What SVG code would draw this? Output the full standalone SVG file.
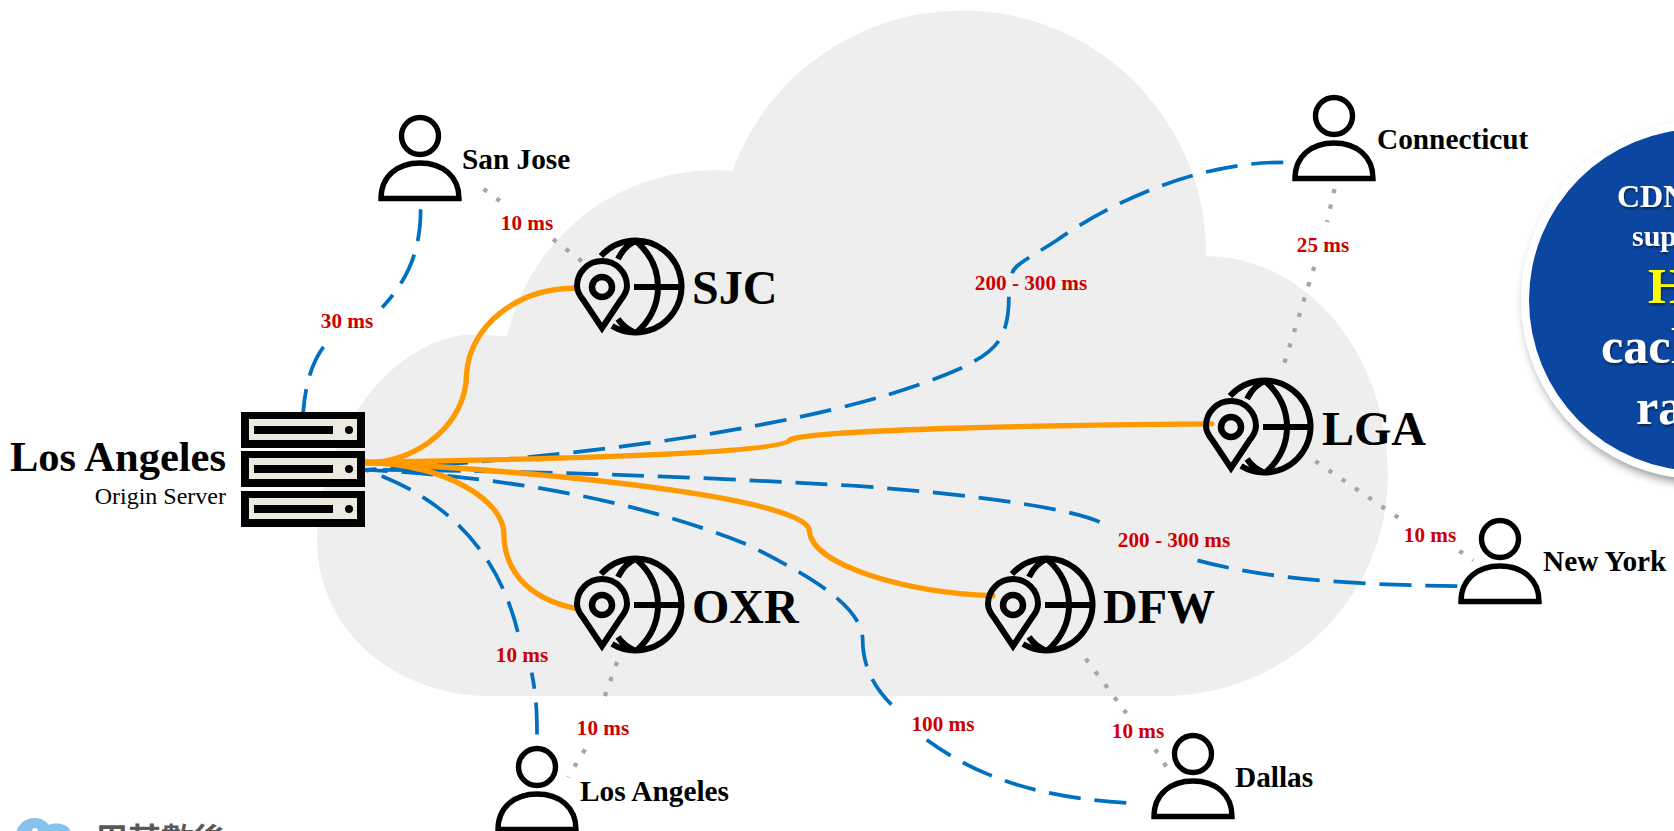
<svg xmlns="http://www.w3.org/2000/svg" width="1674" height="831" viewBox="0 0 1674 831">
<style>
text{font-family:"Liberation Serif","Noto Sans CJK TC",serif;font-weight:700}
.blue{fill:none;stroke:#0070c0;stroke-width:3.5;stroke-dasharray:30 13}
.or{fill:none;stroke:#ff9900;stroke-width:5;stroke-linecap:round}
.dot{fill:none;stroke:#a6a6a6;stroke-width:4;stroke-dasharray:4 11}
.ms{fill:#cc0000;font-size:21.2px;text-anchor:middle}
.pl{fill:#000;font-size:29.3px}
.city{fill:#000;font-size:48px}
.ico{fill:none;stroke:#000;stroke-width:6}
.per{fill:none;stroke:#000;stroke-width:5.4}
.w{fill:#fff}
</style>
<defs>
<g id="globe">
<path class="ico" d="M-1,-31A46,46 0 1 1 10,39M34,-46C50,-32 56,-15 56,0C56,15 50,32 34,46M34,-46C26,-43 20,-36 16,-28M34,46C26,43 20,38 16,32M32,0H78"/>
<path class="ico" d="M0,41L-18,14C-23,8 -25,4 -25,-1A25,25 0 0 1 25,-1C25,4 23,8 18,14Z"/>
<circle class="ico" cx="0" cy="0" r="10" style="stroke-width:6.500"/>
</g>
<g id="person">
<circle class="per" cx="0" cy="0" r="18.5"/>
<path class="per" d="M-39,62.500C-39,40 -22,27 0,27C22,27 39,40 39,62.500Z"/>
</g>
<g id="srv">
<rect x="0" y="0" width="124" height="36" fill="#000"/>
<rect x="8" y="7" width="108" height="21" fill="#ece9df"/>
<rect x="13" y="14" width="79" height="8" fill="#000"/>
<circle cx="108" cy="18" r="4" fill="#000"/>
</g>
<filter id="sh" x="-10%" y="-10%" width="120%" height="120%"><feDropShadow dx="3" dy="5" stdDeviation="4" flood-color="#000" flood-opacity=".4"/></filter>
<filter id="ts" x="-10%" y="-10%" width="120%" height="120%"><feDropShadow dx="1" dy="2" stdDeviation="1" flood-color="#000" flood-opacity=".5"/></filter>
</defs>

<g id="cloud" transform="scale(1.0676)">
<path fill="#eeeeee" d="M460,652C370,652 297,590 297,506C297,430 350,322 440,313L475,315A200,200 0 0 1 686,160A229,229 0 0 1 1130,240A170,205 0 0 1 1300,445A210,207 0 0 1 1090,652Z"/>
</g>

<g id="connectors" transform="scale(1.0676)">
<path class="dot" d="M453,177L472,191M518,224L548,247"/>
<path class="dot" d="M1250,177L1243,208M1231,250L1200,350"/>
<path class="dot" d="M1232,432L1310,485M1367,516L1380,525"/>
<path class="dot" d="M578,620L563,662M548,702L532,728"/>
<path class="dot" d="M1017,617L1055,668M1082,702L1095,722"/>
<path class="blue" d="M394,196C394,235 382,262 358,288M303,325C292,340 286,360 284,386"/>
<path class="blue" d="M1202,152C1120,152 1040,190 990,225C962,243 950,248 948,256M945,278C945,320 930,330 900,345C800,390 600,425 342,440"/>
<path class="blue" d="M1365,549C1290,548 1190,545 1115,523M1030,489C1000,475 900,462 800,455C640,446 500,441 342,440"/>
<path class="blue" d="M1055,752C990,748 925,735 868,693M835,660C815,640 808,620 808,598C806,570 770,545 700,510C600,470 480,447 342,440"/>
<path class="blue" d="M503,688C503,665 502,650 498,630M485,592C470,530 430,470 342,440"/>
<path class="or" d="M538,270C485,270 440,305 437,350C437,395 395,432 342,434"/>
<path class="or" d="M1135,397C1000,398 760,402 740,412C735,420 650,428 342,433"/>
<path class="or" d="M930,558C850,555 760,530 758,497C757,470 560,445 342,433"/>
<path class="or" d="M540,570C490,560 472,530 472,500C472,470 420,435 342,433"/>
</g>

<g id="labels">
<text class="ms" x="527" y="230">10 ms</text>
<text class="ms" x="347" y="328">30 ms</text>
<text class="ms" x="1031" y="290">200 - 300 ms</text>
<text class="ms" x="1323" y="252">25 ms</text>
<text class="ms" x="1430" y="542">10 ms</text>
<text class="ms" x="1174" y="547">200 - 300 ms</text>
<text class="ms" x="522" y="662">10 ms</text>
<text class="ms" x="603" y="735">10 ms</text>
<text class="ms" x="943" y="731">100 ms</text>
<text class="ms" x="1138" y="738">10 ms</text>
</g>

<g id="origin">
<use href="#srv" x="241" y="412"/>
<use href="#srv" x="241" y="451"/>
<use href="#srv" x="241" y="491"/>
<text x="226" y="471" text-anchor="end" font-size="42.500" fill="#000">Los Angeles</text>
<text x="226" y="504" text-anchor="end" font-size="24" fill="#000" style="font-weight:400">Origin Server</text>
</g>

<g id="sjc"><use href="#globe" x="602" y="287"/><text class="city" x="692" y="304">SJC</text></g>
<g id="lga"><use href="#globe" x="1231" y="427"/><text class="city" x="1322" y="445">LGA</text></g>
<g id="oxr"><use href="#globe" x="602" y="605"/><text class="city" x="692" y="623">OXR</text></g>
<g id="dfw"><use href="#globe" x="1013" y="605"/><text class="city" x="1103" y="623">DFW</text></g>

<g id="p-sanjose"><use href="#person" x="420" y="136"/><text class="pl" x="462" y="169">San Jose</text></g>
<g id="p-connecticut"><use href="#person" x="1334" y="116"/><text class="pl" x="1377" y="149">Connecticut</text></g>
<g id="p-newyork"><use href="#person" x="1500" y="539"/><text class="pl" x="1543" y="571">New York</text></g>
<g id="p-dallas"><use href="#person" x="1193" y="754"/><text class="pl" x="1235" y="787">Dallas</text></g>
<g id="p-la"><use href="#person" x="537" y="767"/><text class="pl" x="580" y="801">Los Angeles</text></g>

<g id="note">
<circle cx="1700" cy="300" r="179" fill="#fff" filter="url(#sh)"/>
<circle cx="1700" cy="300" r="171" fill="#0b47a1"/>
<g filter="url(#ts)">
<text class="w" x="1617" y="207" font-size="32">CDN</text>
<text class="w" x="1632" y="246" font-size="30">sup</text>
<text x="1648" y="303" font-size="50" fill="#ffff00">H</text>
<text class="w" x="1601" y="363" font-size="50">cach</text>
<text class="w" x="1636" y="424" font-size="50">ra</text>
</g>
</g>

<g id="logo">
<path fill="#85c1ec" d="M15,840C15,826 24,818 35,818C42,818 47,822 49,825C52,823 66,822 70,830L70,840Z"/>
<circle cx="35" cy="831" r="3" fill="#fff"/>
<text x="95" y="852" font-size="33" fill="#595959" style="font-weight:700">周某數後</text>
</g>
</svg>
